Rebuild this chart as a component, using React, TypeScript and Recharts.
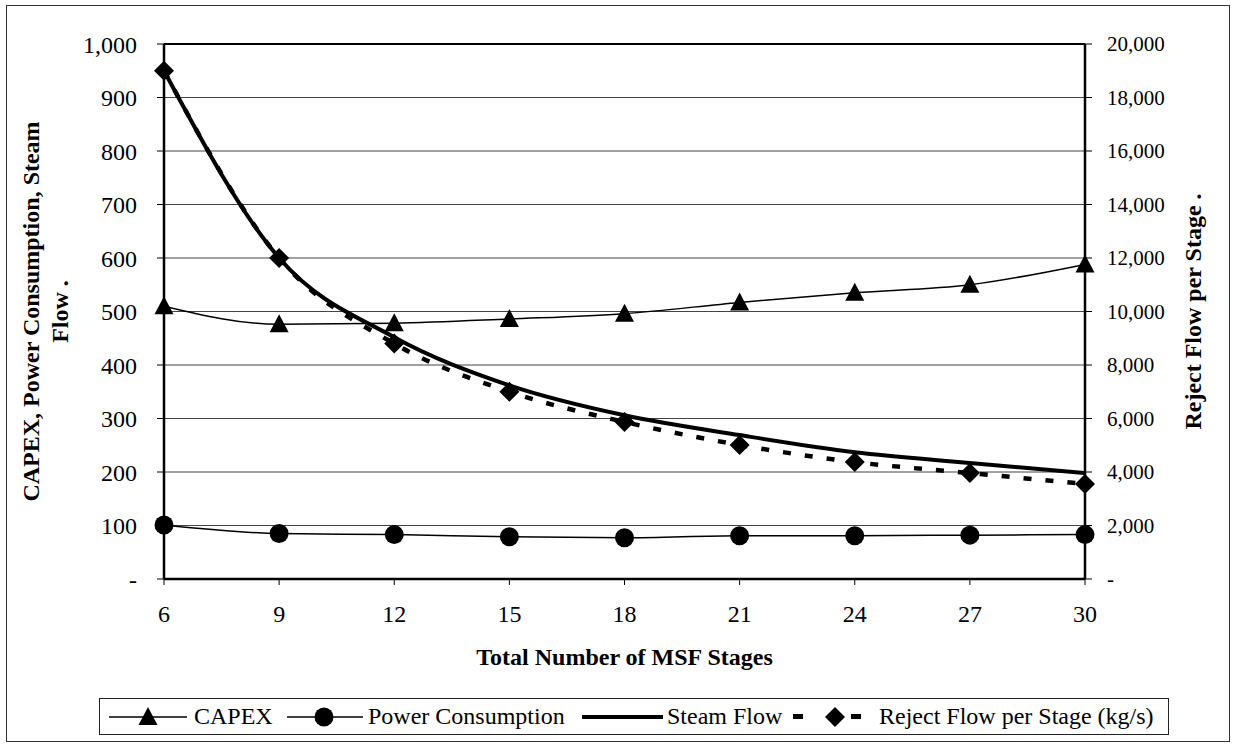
import React from 'react';
import {
  LineChart,
  Line,
  XAxis,
  YAxis,
  CartesianGrid,
  Legend,
  ReferenceLine,
} from 'recharts';

// values
const stages = [6, 9, 12, 15, 18, 21, 24, 27, 30];
const capex = [510, 476, 478, 486, 496, 517, 535, 550, 588];
const powerConsumption = [101, 85, 83, 79, 77, 81, 81, 82, 83];
const steamFlow = [950, 600, 452, 362, 306, 269, 237, 217, 198];
const rejectFlow = [19000, 12000, 8800, 7000, 5870, 5010, 4370, 3960, 3550];

const leftTicks = [0, 100, 200, 300, 400, 500, 600, 700, 800, 900, 1000];
const rightTicks = [0, 2000, 4000, 6000, 8000, 10000, 12000, 14000, 16000, 18000, 20000];
const seriesNames = ['CAPEX', 'Power Consumption', 'Steam Flow', 'Reject Flow per Stage (kg/s)'];

const data = stages.map((s, i) => ({
  stages: s,
  capex: capex[i],
  power: powerConsumption[i],
  steam: steamFlow[i],
  reject: rejectFlow[i],
}));

const FONT = '"Liberation Serif", "Times New Roman", serif';

const fmt = (v: number) => (v === 0 ? '-' : v.toLocaleString('en-US'));

const TriangleDot = (props: any) => {
  const { cx, cy, index } = props;
  if (cx == null || cy == null) return null;
  return (
    <polygon
      key={`tri-${index}`}
      points={`${cx},${cy - 10} ${cx - 9.5},${cy + 8} ${cx + 9.5},${cy + 8}`}
      fill="#000"
    />
  );
};

const CircleDot = (props: any) => {
  const { cx, cy, index } = props;
  if (cx == null || cy == null) return null;
  return <circle key={`cir-${index}`} cx={cx} cy={cy} r={9.5} fill="#000" />;
};

const DiamondDot = (props: any) => {
  const { cx, cy, index } = props;
  if (cx == null || cy == null) return null;
  return (
    <polygon
      key={`dia-${index}`}
      points={`${cx},${cy - 10} ${cx + 10},${cy} ${cx},${cy + 10} ${cx - 10},${cy}`}
      fill="#000"
    />
  );
};

const LeftTitle = (props: any) => {
  const vb = props.viewBox || { x: 104, y: 44, width: 60, height: 535 };
  const cy = vb.y + vb.height / 2;
  const x1 = vb.x - 73;
  const x2 = vb.x - 44;
  const style = { fontFamily: FONT, fontSize: 24, fontWeight: 700 };
  return (
    <g>
      <text x={x1} y={cy} transform={`rotate(-90, ${x1}, ${cy})`} textAnchor="middle" dominantBaseline="central" style={style} fill="#000">
        CAPEX,  Power Consumption, Steam
      </text>
      <text x={x2} y={cy} transform={`rotate(-90, ${x2}, ${cy})`} textAnchor="middle" dominantBaseline="central" style={style} fill="#000">
        Flow .
      </text>
    </g>
  );
};

const RightTitle = (props: any) => {
  const vb = props.viewBox || { x: 1085, y: 44, width: 80, height: 535 };
  const cy = vb.y + vb.height / 2;
  const x = vb.x + 108;
  return (
    <text x={x} y={cy} transform={`rotate(-90, ${x}, ${cy})`} textAnchor="middle" dominantBaseline="central"
      style={{ fontFamily: FONT, fontSize: 24, fontWeight: 700 }} fill="#000">
      Reject Flow per Stage .
    </text>
  );
};

const BottomTitle = (props: any) => {
  const vb = props.viewBox || { x: 164, y: 579, width: 921, height: 40 };
  const cx = vb.x + vb.width / 2;
  const cy = vb.y + 78;
  return (
    <text x={cx} y={cy} textAnchor="middle" dominantBaseline="central"
      style={{ fontFamily: FONT, fontSize: 24, fontWeight: 700 }} fill="#000">
      Total Number of MSF Stages
    </text>
  );
};

const renderLegend = () => {
  const itemStyle: React.CSSProperties = {
    position: 'absolute',
    top: 0,
    height: 35,
    lineHeight: '35px',
    whiteSpace: 'nowrap',
  };
  return (
    <div
      style={{
        position: 'relative',
        width: 1070,
        height: 37,
        border: '1.5px solid #222',
        boxSizing: 'border-box',
        background: '#fff',
        fontFamily: FONT,
        fontSize: 24,
        color: '#000',
      }}
    >
      <svg style={{ position: 'absolute', left: 9, top: 0 }} width={78} height={35}>
        <line x1={0} y1={18} x2={78} y2={18} stroke="#000" strokeWidth={1.5} />
        <polygon points="39,8 29.5,26 48.5,26" fill="#000" />
      </svg>
      <span style={{ ...itemStyle, left: 94 }}>{seriesNames[0]}</span>
      <svg style={{ position: 'absolute', left: 187, top: 0 }} width={76} height={35}>
        <line x1={0} y1={18} x2={76} y2={18} stroke="#000" strokeWidth={1.5} />
        <circle cx={37} cy={18} r={9.5} fill="#000" />
      </svg>
      <span style={{ ...itemStyle, left: 268 }}>{seriesNames[1]}</span>
      <svg style={{ position: 'absolute', left: 482, top: 0 }} width={81} height={35}>
        <line x1={0} y1={18} x2={81} y2={18} stroke="#000" strokeWidth={4} />
      </svg>
      <span style={{ ...itemStyle, left: 567 }}>{seriesNames[2]}</span>
      <svg style={{ position: 'absolute', left: 693, top: 0 }} width={70} height={35}>
        <rect x={0} y={15} width={10} height={5} fill="#000" />
        <polygon points="42,8 52,18 42,28 32,18" fill="#000" />
        <rect x={58} y={15} width={10} height={5} fill="#000" />
      </svg>
      <span style={{ ...itemStyle, left: 779 }}>{seriesNames[3]}</span>
    </div>
  );
};

export default function App() {
  return (
    <div
      style={{
        position: 'absolute',
        left: 0,
        top: 0,
        width: 1233,
        height: 745,
        background: '#fff',
        fontFamily: FONT,
      }}
    >
      <div
        style={{
          position: 'absolute',
          left: 6,
          top: 5,
          width: 1224,
          height: 737,
          border: '1.5px solid #333',
          boxSizing: 'border-box',
        }}
      />
      <LineChart
        width={1233}
        height={745}
        data={data}
        margin={{ top: 44, right: 68, left: 104, bottom: 126 }}
        style={{ position: 'absolute', left: 0, top: 0 }}
      >
        <CartesianGrid yAxisId="left" vertical={false} stroke="#444" strokeWidth={1} />
        <XAxis
          dataKey="stages"
          type="number"
          domain={[6, 30]}
          ticks={stages}
          height={40}
          tickSize={6}
          tickMargin={20}
          axisLine={{ stroke: '#000', strokeWidth: 2.5 }}
          tickLine={{ stroke: '#000' }}
          tick={{ fontSize: 24, fill: '#000', fontFamily: FONT }}
          label={<BottomTitle />}
        />
        <YAxis
          yAxisId="left"
          domain={[0, 1000]}
          ticks={leftTicks}
          width={60}
          tickSize={7}
          tickMargin={20}
          tickFormatter={fmt}
          axisLine={{ stroke: '#000', strokeWidth: 2.5 }}
          tickLine={{ stroke: '#000' }}
          tick={{ fontSize: 24, fill: '#000', fontFamily: FONT }}
          label={<LeftTitle />}
        />
        <YAxis
          yAxisId="right"
          orientation="right"
          domain={[0, 20000]}
          ticks={rightTicks}
          width={80}
          tickSize={7}
          tickMargin={15}
          tickFormatter={fmt}
          axisLine={{ stroke: '#000', strokeWidth: 2.5 }}
          tickLine={{ stroke: '#000' }}
          tick={{ fontSize: 21, fill: '#000', fontFamily: FONT, textAnchor: 'start' }}
          label={<RightTitle />}
        />
        <ReferenceLine yAxisId="left" y={1000} stroke="#000" strokeWidth={2} />
        <Line
          yAxisId="left"
          type="monotone"
          dataKey="capex"
          name={seriesNames[0]}
          stroke="#000"
          strokeWidth={1.5}
          dot={TriangleDot}
          activeDot={false}
          isAnimationActive={false}
        />
        <Line
          yAxisId="left"
          type="monotone"
          dataKey="power"
          name={seriesNames[1]}
          stroke="#000"
          strokeWidth={1.5}
          dot={CircleDot}
          activeDot={false}
          isAnimationActive={false}
        />
        <Line
          yAxisId="left"
          type="monotone"
          dataKey="steam"
          name={seriesNames[2]}
          stroke="#000"
          strokeWidth={4}
          dot={false}
          activeDot={false}
          isAnimationActive={false}
        />
        <Line
          yAxisId="right"
          type="monotone"
          dataKey="reject"
          name={seriesNames[3]}
          stroke="#000"
          strokeWidth={4.5}
          strokeDasharray="8 14"
          dot={DiamondDot}
          activeDot={false}
          isAnimationActive={false}
        />
        <Legend
          layout="horizontal"
          verticalAlign="middle"
          align="center"
          content={renderLegend}
          wrapperStyle={{ position: 'absolute', left: 99, top: 698, width: 1070, height: 37 }}
        />
      </LineChart>
    </div>
  );
}
